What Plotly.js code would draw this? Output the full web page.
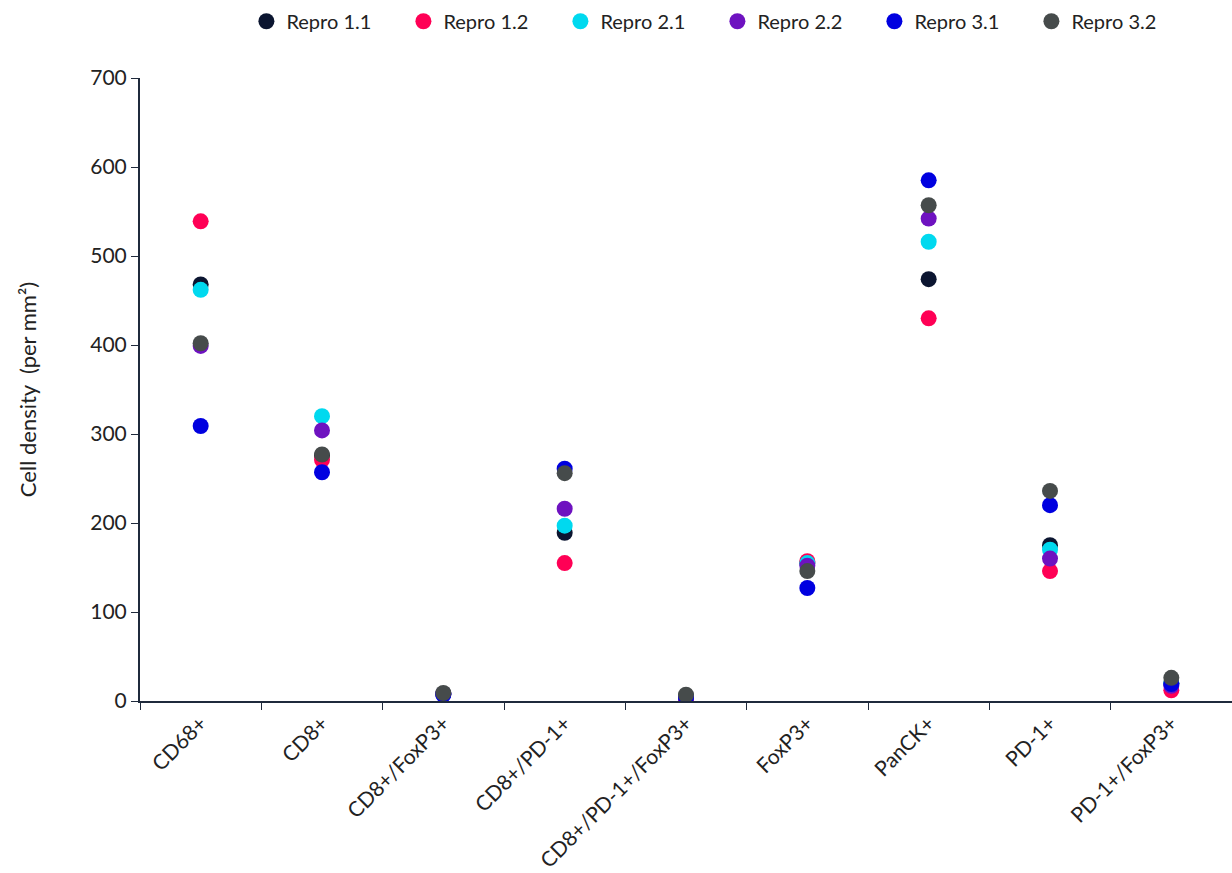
<!DOCTYPE html>
<html><head><meta charset="utf-8">
<script src="https://cdn.plot.ly/plotly-3.0.1.min.js"></script>
<style>html,body{margin:0;padding:0;background:#fff}#chart{width:1232px;height:873px}</style>
</head><body><div id="chart"></div>
<script>
const categories = ["CD68+","CD8+","CD8+/FoxP3+","CD8+/PD-1+","CD8+/PD-1+/FoxP3+","FoxP3+","PanCK+","PD-1+","PD-1+/FoxP3+"];
const seriesNames = ["Repro 1.1","Repro 1.2","Repro 2.1","Repro 2.2","Repro 3.1","Repro 3.2"];
const repro11 = [468, 276, 8, 189, 5, 155, 474, 175, 20];
const repro12 = [539, 271, 8, 155, 2, 157, 430, 146, 12];
const repro21 = [462, 320, 8, 197, 5, 155, 516, 170, 20];
const repro22 = [399, 304, 8, 216, 4, 152, 542, 160, 17];
const repro31 = [309, 257, 7, 261, 4, 127, 585, 220, 19];
const repro32 = [402, 277, 9, 256, 7, 146, 557, 236, 26];
const colors = ["#0b1530","#ff0055","#00d9ef","#6e12c0","#0000e0","#464b4b"];
const allSeries = [repro11, repro12, repro21, repro22, repro31, repro32];

const traces = allSeries.map((vals, i) => ({
  type: "scatter", mode: "markers", name: seriesNames[i],
  x: categories, y: vals,
  marker: {color: colors[i], size: 16}
}));

const layout = {
  width: 1232, height: 873,
  margin: {l: 140, r: 0, t: 78, b: 172},
  paper_bgcolor: "#fff", plot_bgcolor: "#fff",
  font: {family: "Lato, 'Open Sans', sans-serif", size: 19, color: "#222"},
  showlegend: true,
  legend: {orientation: "h", x: 0.2, xref: "container", xanchor: "left",
           y: 0.998, yref: "container", yanchor: "top",
           font: {size: 20, color: "#222"}, entrywidth: 112, entrywidthmode: "pixels",
           itemwidth: 30, tracegroupgap: 0},
  xaxis: {
    type: "category", range: [-0.5, 8.5],
    showline: true, linecolor: "#1f2a3c", linewidth: 2,
    ticks: "outside", tickson: "boundaries", ticklen: 7, tickcolor: "#1f2a3c",
    tickangle: -45, tickfont: {size: 21, color: "#222"},
    showgrid: false, zeroline: false
  },
  yaxis: {
    range: [0, 700], dtick: 100,
    showline: true, linecolor: "#1f2a3c", linewidth: 2,
    ticks: "outside", ticklen: 7, tickcolor: "#1f2a3c",
    tickfont: {size: 21, color: "#222"},
    showgrid: false, zeroline: false,
    title: {text: "Cell density  (per mm²)", font: {size: 22, color: "#222"}, standoff: 48}
  }
};
Plotly.newPlot("chart", traces, layout, {displayModeBar: false});
</script></body></html>
